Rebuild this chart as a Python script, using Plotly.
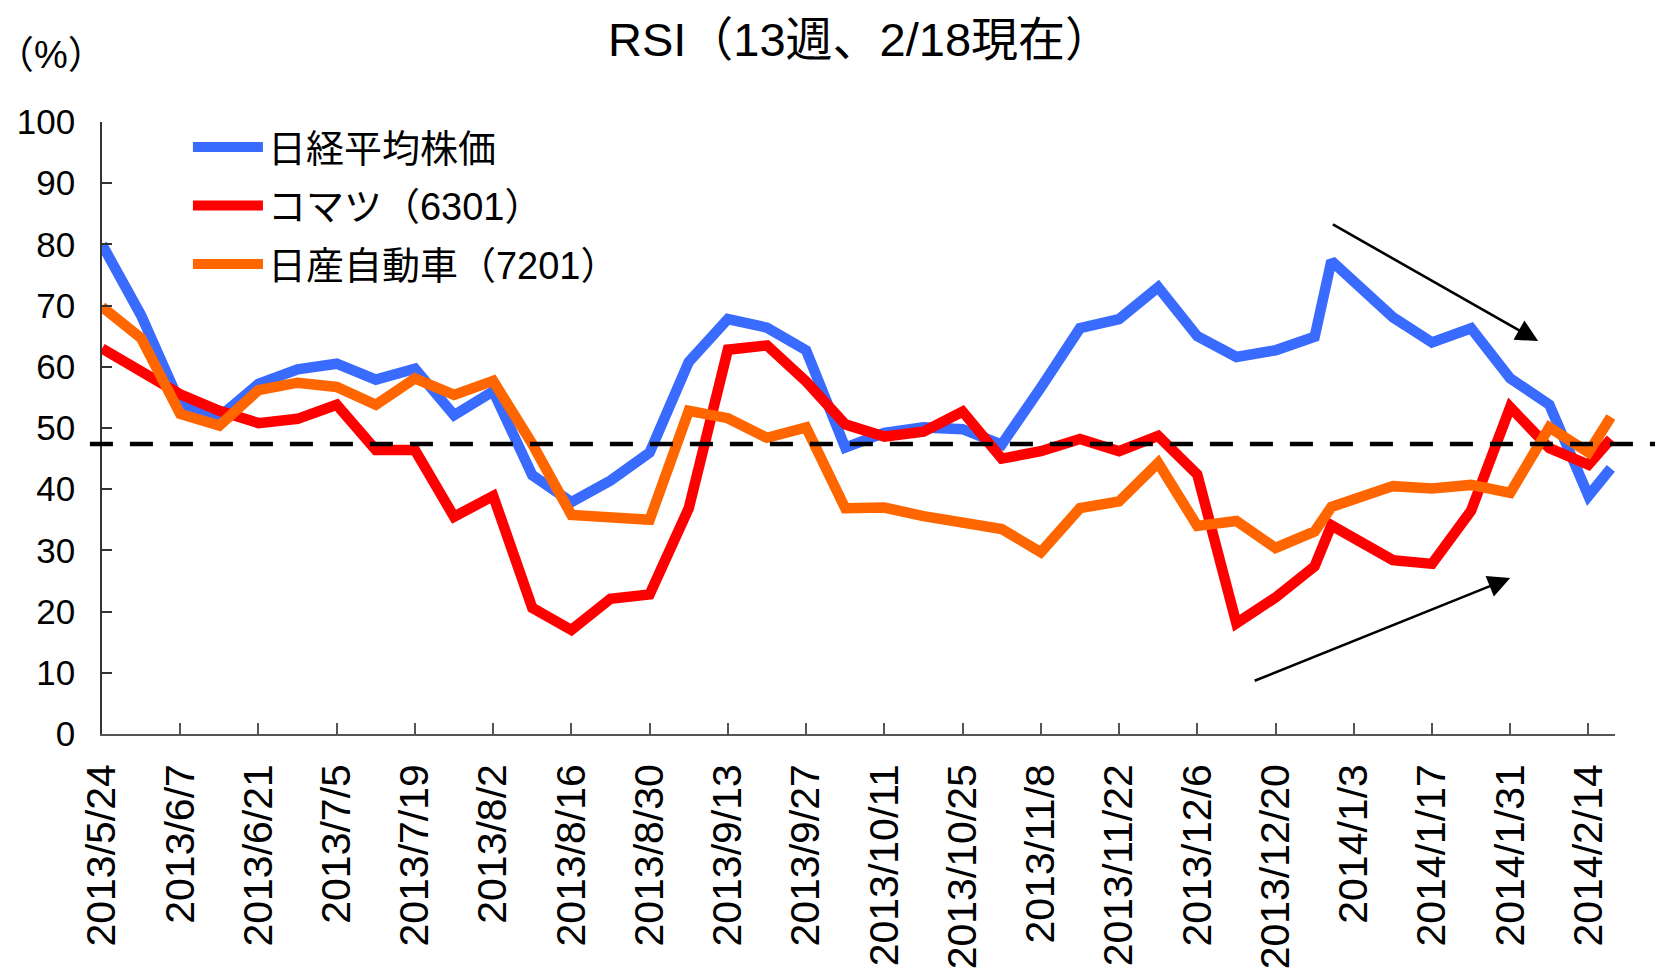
import plotly.graph_objects as go
import pandas as pd

# ---- data ----
dates = [
    "2013-05-24", "2013-05-31", "2013-06-07", "2013-06-14", "2013-06-21", "2013-06-28",
    "2013-07-05", "2013-07-12", "2013-07-19", "2013-07-26", "2013-08-02", "2013-08-09",
    "2013-08-16", "2013-08-23", "2013-08-30", "2013-09-06", "2013-09-13", "2013-09-20",
    "2013-09-27", "2013-10-04", "2013-10-11", "2013-10-18", "2013-10-25", "2013-11-01",
    "2013-11-08", "2013-11-15", "2013-11-22", "2013-11-29", "2013-12-06", "2013-12-13",
    "2013-12-20", "2013-12-27", "2013-12-30", "2014-01-10", "2014-01-17", "2014-01-24",
    "2014-01-31", "2014-02-07", "2014-02-14", "2014-02-18",
]

nikkei = [80.0, 68.4, 54.0, 51.8, 57.2, 59.6, 60.5, 57.9, 59.7, 52.1,
          56.0, 42.3, 37.9, 41.4, 46.0, 60.8, 67.8, 66.4, 62.7, 46.8,
          49.2, 50.1, 49.8, 47.3, 56.6, 66.3, 67.8, 73.0, 65.0, 61.6,
          62.7, 64.9, 77.3, 68.1, 64.0, 66.3, 58.1, 53.8, 38.9, 43.4]

komatsu = [63.0, 59.3, 55.5, 52.8, 50.8, 51.5, 53.8, 46.4, 46.4, 35.5,
           38.9, 20.6, 17.0, 22.1, 22.8, 36.9, 62.8, 63.5, 57.6, 50.6,
           48.6, 49.4, 52.7, 45.0, 46.2, 48.2, 46.2, 48.7, 42.4, 18.1,
           22.3, 27.4, 34.1, 28.4, 27.8, 36.5, 53.4, 46.7, 44.0, 48.2]

nissan = [69.8, 64.7, 52.3, 50.4, 56.2, 57.4, 56.7, 53.8, 58.1, 55.4,
          57.7, 47.4, 35.8, 35.6, 35.0, 52.8, 51.6, 48.4, 50.1, 36.9,
          37.0, 35.6, 34.5, 33.5, 29.7, 36.9, 38.0, 44.3, 34.0, 34.8,
          30.4, 33.1, 37.1, 40.5, 40.1, 40.7, 39.4, 50.1, 46.0, 51.8]

series_names = ["日経平均株価", "コマツ（6301）", "日産自動車（7201）"]
series_colors = ["#3A6BFF", "#FF0000", "#FF6600"]

reference_level = 47.4

tick_dates = pd.date_range("2013-05-24", "2014-02-14", freq="14D")
tick_labels = [f"{d.year}/{d.month}/{d.day}" for d in tick_dates]

title_text = "RSI（13週、2/18現在）"
unit_text = "（%）"

# ---- figure ----
FONT = "Liberation Sans, Arial, Noto Sans CJK JP"

fig = go.Figure()
for name, vals, col in zip(series_names, [nikkei, komatsu, nissan], series_colors):
    fig.add_trace(go.Scatter(
        x=pd.to_datetime(dates), y=vals, name=name, mode="lines",
        line=dict(color=col, width=10.5), legendgroup=name,
    ))

fig.add_shape(type="line", xref="paper", yref="y", x0=-0.008, x1=1.03,
              y0=reference_level, y1=reference_level,
              line=dict(color="black", width=4.5, dash="23px,17px"))

# trend arrows
fig.add_annotation(x="2014-02-05", y=64.2, ax="2013-12-30", ay=83.4,
                   xref="x", yref="y", axref="x", ayref="y", text="",
                   showarrow=True, arrowhead=2, arrowsize=1.7, arrowwidth=2.6,
                   arrowcolor="black")
fig.add_annotation(x="2014-01-31", y=25.5, ax="2013-12-16", ay=8.6,
                   xref="x", yref="y", axref="x", ayref="y", text="",
                   showarrow=True, arrowhead=2, arrowsize=1.7, arrowwidth=2.6,
                   arrowcolor="black")

fig.add_annotation(text=unit_text, xref="paper", yref="paper",
                   x=-0.0340, y=1.110, xanchor="center", yanchor="middle",
                   showarrow=False, font=dict(family=FONT, size=38, color="black"))

fig.update_layout(
    template="none",
    width=1655, height=975,
    margin=dict(l=102, r=40, t=122, b=241, autoexpand=False),
    paper_bgcolor="white", plot_bgcolor="white",
    title=dict(text=title_text, x=0.501, xref="paper", xanchor="center",
               y=0.959, yref="container", yanchor="middle",
               font=dict(family=FONT, size=47, color="black")),
    showlegend=True,
    legend=dict(x=0.0568, y=1.01, xanchor="left", yanchor="top",
                font=dict(family=FONT, size=38, color="black"),
                itemwidth=70, tracegroupgap=6, bgcolor="rgba(0,0,0,0)"),
    xaxis=dict(
        type="date", automargin=False,
        range=["2013-05-24", "2014-02-18 18:00"],
        tickvals=tick_dates, ticktext=tick_labels,
        tickangle=-90, ticks="inside", ticklen=11, tickwidth=1.5, tickcolor="#555",
        showline=True, linecolor="#555", linewidth=1.5, showgrid=False, zeroline=False,
        tickfont=dict(family="Liberation Sans, Arial", size=41, color="black"),
        ticklabelstandoff=12,
    ),
    yaxis=dict(
        range=[0, 100], dtick=10, tick0=0, automargin=False,
        ticks="inside", ticklen=10, tickwidth=1.5, tickcolor="#333",
        showline=True, linecolor="#333", linewidth=1.5, showgrid=False, zeroline=False,
        tickfont=dict(family="Liberation Sans, Arial", size=35, color="black"),
        ticklabelstandoff=18,
    ),
)

fig.write_html("out.html", config={"displayModeBar": False},
               post_script="document.body.style.margin='0px';document.body.style.overflow='hidden';")
